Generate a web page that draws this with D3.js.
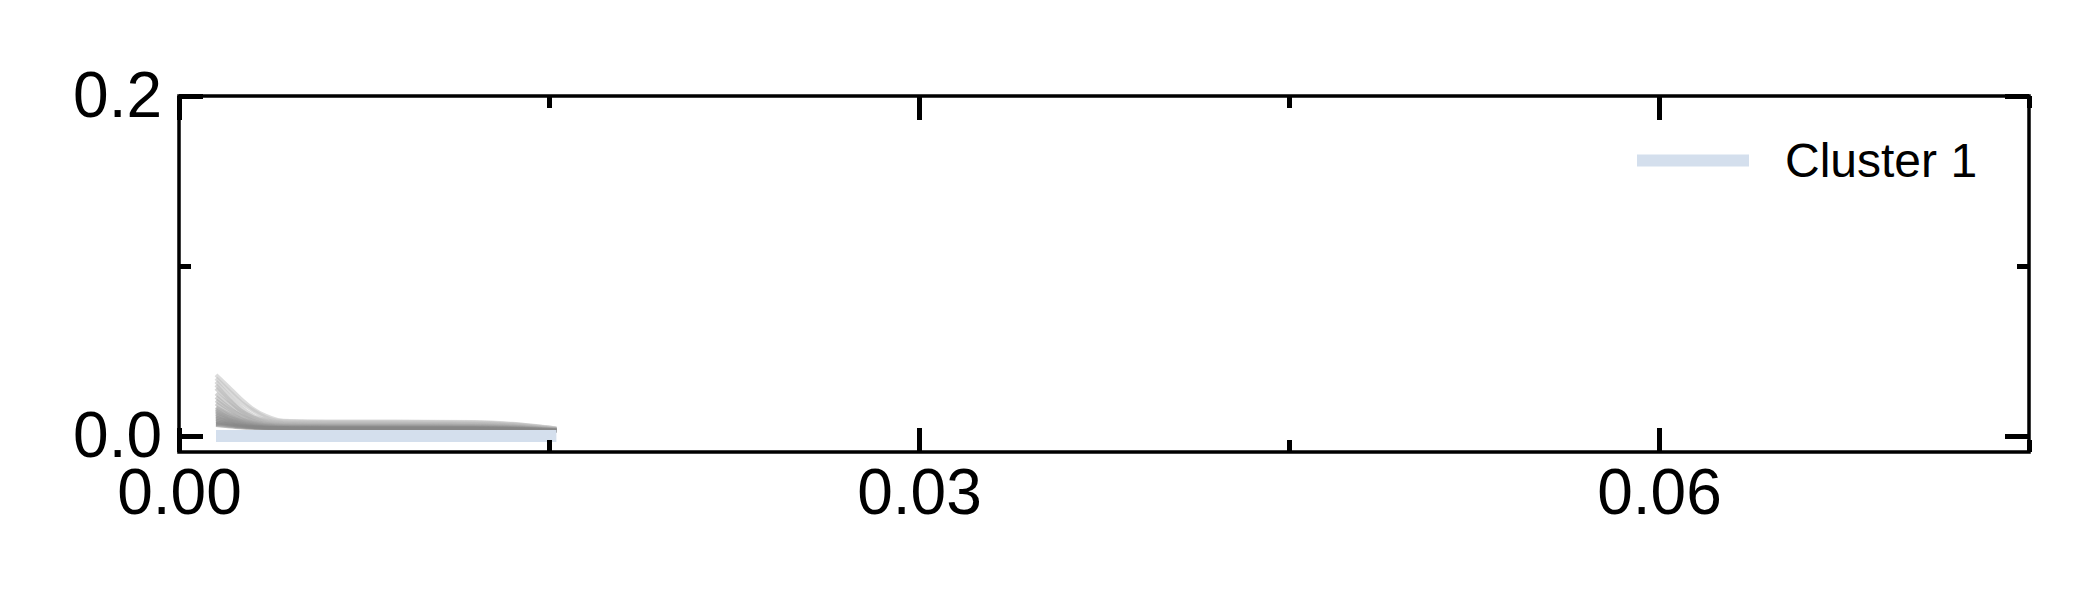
<!DOCTYPE html>
<html>
<head>
<meta charset="utf-8">
<script src="https://cdn.jsdelivr.net/npm/d3@7"></script>
<style>
  html, body { margin: 0; padding: 0; background: #fff; }
  svg { display: block; font-family: "Liberation Sans", Arial, sans-serif; }
</style>
</head>
<body>
<svg id="chart" width="2100" height="600"></svg>
<script>
// ---- data ----
const xValues = [0.0015, 0.002, 0.0025, 0.003, 0.0035, 0.004, 0.0045, 0.006, 0.008, 0.010, 0.012, 0.0135, 0.0153];

const memberSeries = [
  [0.036, 0.029, 0.022, 0.016, 0.012, 0.0095, 0.0088, 0.0085, 0.0085, 0.0084, 0.0082, 0.0072, 0.0045],
  [0.034, 0.027, 0.020, 0.015, 0.011, 0.0090, 0.0085, 0.0083, 0.0082, 0.0082, 0.0080, 0.0070, 0.0044],
  [0.032, 0.024, 0.017, 0.012, 0.0095, 0.0082, 0.0078, 0.0076, 0.0076, 0.0075, 0.0074, 0.0066, 0.0042],
  [0.030, 0.022, 0.015, 0.011, 0.0088, 0.0078, 0.0074, 0.0072, 0.0072, 0.0071, 0.0070, 0.0063, 0.0040],
  [0.028, 0.021, 0.015, 0.011, 0.0085, 0.0074, 0.0070, 0.0068, 0.0068, 0.0068, 0.0067, 0.0061, 0.0040],
  [0.025, 0.019, 0.014, 0.010, 0.0080, 0.0070, 0.0066, 0.0065, 0.0065, 0.0064, 0.0063, 0.0058, 0.0038],
  [0.023, 0.017, 0.012, 0.0090, 0.0072, 0.0066, 0.0063, 0.0062, 0.0062, 0.0062, 0.0061, 0.0055, 0.0038],
  [0.021, 0.016, 0.012, 0.0088, 0.0072, 0.0064, 0.0061, 0.0060, 0.0060, 0.0060, 0.0059, 0.0054, 0.0037],
  [0.019, 0.014, 0.010, 0.0080, 0.0068, 0.0062, 0.0060, 0.0058, 0.0058, 0.0058, 0.0057, 0.0052, 0.0036],
  [0.017, 0.013, 0.010, 0.0078, 0.0066, 0.0060, 0.0058, 0.0057, 0.0057, 0.0056, 0.0056, 0.0051, 0.0036],
  [0.016, 0.012, 0.0092, 0.0074, 0.0064, 0.0058, 0.0056, 0.0055, 0.0055, 0.0055, 0.0054, 0.0050, 0.0035],
  [0.015, 0.011, 0.0088, 0.0072, 0.0062, 0.0057, 0.0055, 0.0054, 0.0054, 0.0054, 0.0053, 0.0049, 0.0035],
  [0.014, 0.011, 0.0085, 0.0070, 0.0060, 0.0055, 0.0053, 0.0052, 0.0052, 0.0052, 0.0051, 0.0047, 0.0034],
  [0.013, 0.010, 0.0080, 0.0066, 0.0058, 0.0053, 0.0051, 0.0050, 0.0050, 0.0050, 0.0050, 0.0046, 0.0034],
  [0.012, 0.0095, 0.0076, 0.0063, 0.0056, 0.0052, 0.0050, 0.0049, 0.0049, 0.0049, 0.0049, 0.0045, 0.0033],
  [0.011, 0.0088, 0.0072, 0.0060, 0.0054, 0.0050, 0.0048, 0.0048, 0.0048, 0.0048, 0.0047, 0.0044, 0.0033],
  [0.010, 0.0082, 0.0068, 0.0058, 0.0052, 0.0049, 0.0047, 0.0046, 0.0046, 0.0046, 0.0046, 0.0043, 0.0032],
  [0.009, 0.0076, 0.0064, 0.0055, 0.0050, 0.0047, 0.0046, 0.0045, 0.0045, 0.0045, 0.0045, 0.0042, 0.0032],
  [0.008, 0.0070, 0.0060, 0.0053, 0.0049, 0.0046, 0.0045, 0.0044, 0.0044, 0.0044, 0.0044, 0.0041, 0.0031],
  [0.007, 0.0064, 0.0056, 0.0050, 0.0047, 0.0045, 0.0044, 0.0043, 0.0043, 0.0043, 0.0043, 0.0040, 0.0031],
  [0.0065, 0.0058, 0.0052, 0.0048, 0.0046, 0.0044, 0.0043, 0.0042, 0.0042, 0.0042, 0.0042, 0.0039, 0.0030]
];

const clusterCenter = [0, 0, 0, 0, 0, 0, 0, 0, 0, 0, 0, 0, 0];
const legendLabel = "Cluster 1";

const xMajorTicks = [0, 0.03, 0.06];
const xMinorTicks = [0.015, 0.045, 0.075];
const yMajorTicks = [0, 0.2];
const yMinorTicks = [0.1];
const xDomain = [0, 0.075];
const yDomain = [-0.0094, 0.2];

// ---- layout ----
const svg = d3.select("#chart");
const mLeft = 179, mRight = 2029, mTop = 96, mBottom = 452;

const x = d3.scaleLinear().domain(xDomain).range([mLeft, mRight]);
const y = d3.scaleLinear().domain(yDomain).range([mBottom, mTop]);

const line = d3.line()
  .x((d, i) => x(xValues[i]))
  .y(d => y(d))
  .curve(d3.curveMonotoneX);

// member lines
const n = memberSeries.length;
const grayScale = d3.interpolateRgb("#c4c4c4", "#858585");
svg.append("g")
  .selectAll("path")
  .data(memberSeries)
  .join("path")
  .attr("d", line)
  .attr("fill", "none")
  .attr("stroke", (d, i) => grayScale(i / (n - 1)))
  .attr("stroke-opacity", 0.6)
  .attr("stroke-width", 4);

// cluster center line
const blue = "#d4dfed";
svg.append("path")
  .datum(clusterCenter)
  .attr("d", line)
  .attr("fill", "none")
  .attr("stroke", blue)
  .attr("stroke-width", 12)
  .attr("stroke-linecap", "butt");

// axes
const fontSize = 64;
function styleAxis(g, width) {
  g.select(".domain").remove();
  g.selectAll(".tick line").attr("stroke", "#000").attr("stroke-width", width);
  g.selectAll(".tick text").attr("fill", "#000").style("font-size", fontSize + "px")
    .style("font-family", '"Liberation Sans", Arial, sans-serif');
}

const fmtX = d3.format(".2f");
const fmtY = d3.format(".1f");

// bottom
svg.append("g").attr("transform", `translate(0,${mBottom})`)
  .call(d3.axisBottom(x).tickValues(xMajorTicks).tickSizeInner(-24).tickSizeOuter(0).tickPadding(17).tickFormat(fmtX))
  .call(g => styleAxis(g, 5));
svg.append("g").attr("transform", `translate(0,${mBottom})`)
  .call(d3.axisBottom(x).tickValues(xMinorTicks).tickSizeInner(-12).tickSizeOuter(0).tickFormat(""))
  .call(g => styleAxis(g, 5));
// top
svg.append("g").attr("transform", `translate(0,${mTop})`)
  .call(d3.axisTop(x).tickValues(xMajorTicks).tickSizeInner(-24).tickSizeOuter(0).tickFormat(""))
  .call(g => styleAxis(g, 5));
svg.append("g").attr("transform", `translate(0,${mTop})`)
  .call(d3.axisTop(x).tickValues(xMinorTicks).tickSizeInner(-12).tickSizeOuter(0).tickFormat(""))
  .call(g => styleAxis(g, 5));
// left
svg.append("g").attr("transform", `translate(${mLeft},0)`)
  .call(d3.axisLeft(y).tickValues(yMajorTicks).tickSizeInner(-24).tickSizeOuter(0).tickPadding(17).tickFormat(fmtY))
  .call(g => styleAxis(g, 5));
svg.append("g").attr("transform", `translate(${mLeft},0)`)
  .call(d3.axisLeft(y).tickValues(yMinorTicks).tickSizeInner(-12).tickSizeOuter(0).tickFormat(""))
  .call(g => styleAxis(g, 5));
// right
svg.append("g").attr("transform", `translate(${mRight},0)`)
  .call(d3.axisRight(y).tickValues(yMajorTicks).tickSizeInner(-24).tickSizeOuter(0).tickFormat(""))
  .call(g => styleAxis(g, 5));
svg.append("g").attr("transform", `translate(${mRight},0)`)
  .call(d3.axisRight(y).tickValues(yMinorTicks).tickSizeInner(-12).tickSizeOuter(0).tickFormat(""))
  .call(g => styleAxis(g, 5));

// frame
svg.append("rect")
  .attr("x", mLeft).attr("y", mTop)
  .attr("width", mRight - mLeft).attr("height", mBottom - mTop)
  .attr("fill", "none").attr("stroke", "#000").attr("stroke-width", 3.5);

// legend
const lg = svg.append("g");
lg.append("line")
  .attr("x1", 1637).attr("x2", 1749).attr("y1", 160.5).attr("y2", 160.5)
  .attr("stroke", blue).attr("stroke-width", 12);
lg.append("text")
  .attr("x", 1785).attr("y", 176.7)
  .style("font-size", "48px")
  .attr("fill", "#000")
  .text(legendLabel);
</script>
</body>
</html>
